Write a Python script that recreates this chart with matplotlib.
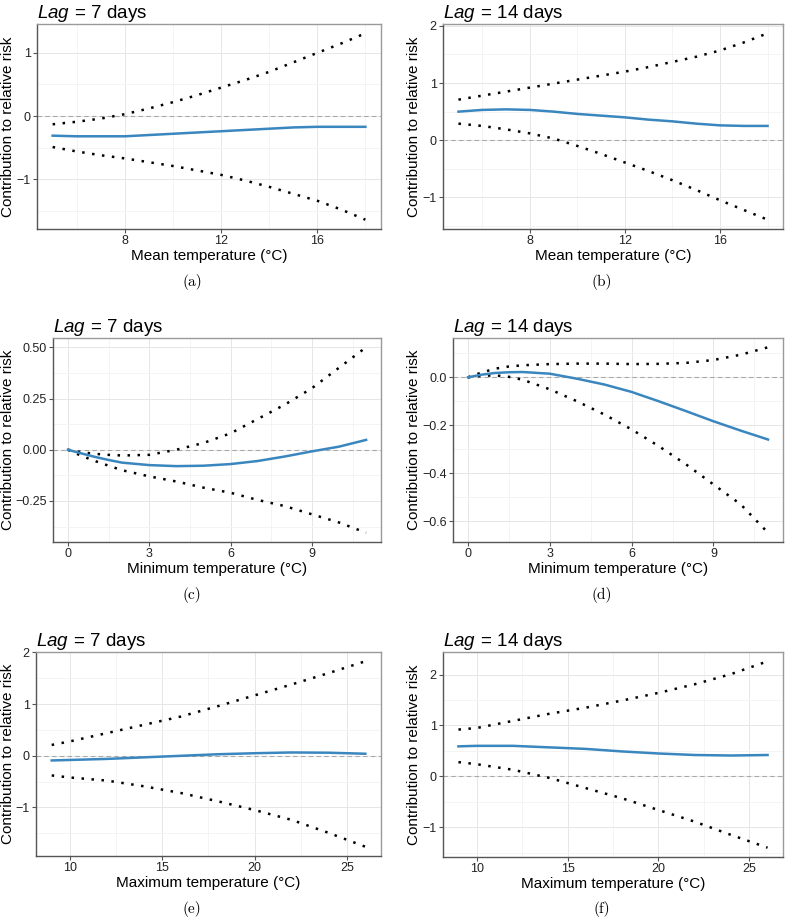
import matplotlib
matplotlib.use("Agg")
import matplotlib.pyplot as plt
from matplotlib.ticker import AutoMinorLocator, FuncFormatter

plt.rcParams["font.family"] = ["Liberation Sans", "DejaVu Sans"]
plt.rcParams["mathtext.fontset"] = "custom"
plt.rcParams["mathtext.rm"] = "Liberation Sans"
plt.rcParams["mathtext.it"] = "Liberation Sans:italic"

# ---- data ----
x_mean = [5, 6, 7, 8, 9, 10, 11, 12, 13, 14, 15, 16, 17, 18]
a_up = [-0.13, -0.09, -0.04, 0.03, 0.12, 0.22, 0.33, 0.45, 0.57, 0.70, 0.85, 1.00, 1.15, 1.31]
a_mid = [-0.31, -0.32, -0.32, -0.32, -0.30, -0.28, -0.26, -0.24, -0.22, -0.20, -0.18, -0.17, -0.17, -0.17]
a_lo = [-0.49, -0.56, -0.62, -0.67, -0.73, -0.79, -0.86, -0.93, -1.02, -1.12, -1.23, -1.34, -1.48, -1.64]

b_up = [0.71, 0.78, 0.85, 0.92, 0.99, 1.06, 1.13, 1.20, 1.28, 1.37, 1.46, 1.57, 1.71, 1.87]
b_mid = [0.50, 0.53, 0.54, 0.53, 0.50, 0.46, 0.43, 0.40, 0.36, 0.33, 0.29, 0.26, 0.25, 0.25]
b_lo = [0.29, 0.25, 0.19, 0.12, 0.03, -0.10, -0.24, -0.39, -0.54, -0.70, -0.87, -1.05, -1.22, -1.39]

x_min = [0, 0.5, 1, 1.5, 2, 3, 4, 5, 6, 7, 8, 9, 10, 11]
c_up = [0.0, -0.012, -0.02, -0.025, -0.028, -0.025, 0.0, 0.033, 0.08, 0.15, 0.22, 0.30, 0.40, 0.50]
c_mid = [0.0, -0.018, -0.035, -0.05, -0.063, -0.075, -0.08, -0.078, -0.07, -0.055, -0.033, -0.008, 0.015, 0.048]
c_lo = [0.0, -0.03, -0.055, -0.078, -0.10, -0.13, -0.155, -0.185, -0.21, -0.245, -0.275, -0.315, -0.355, -0.405]

d_up = [0.0, 0.02, 0.036, 0.045, 0.05, 0.055, 0.057, 0.057, 0.055, 0.056, 0.06, 0.072, 0.094, 0.125]
d_mid = [0.0, 0.011, 0.018, 0.021, 0.022, 0.015, -0.006, -0.03, -0.061, -0.10, -0.141, -0.183, -0.222, -0.259]
d_lo = [0.0, 0.006, 0.008, 0.002, -0.01, -0.05, -0.10, -0.155, -0.217, -0.287, -0.363, -0.446, -0.529, -0.647]

x_max = [9, 10, 12, 14, 16, 18, 20, 22, 24, 26]
e_up = [0.21, 0.28, 0.44, 0.60, 0.76, 0.96, 1.17, 1.38, 1.60, 1.83]
e_mid = [-0.09, -0.08, -0.06, -0.03, 0.0, 0.03, 0.05, 0.065, 0.06, 0.04]
e_lo = [-0.38, -0.42, -0.48, -0.59, -0.72, -0.88, -1.05, -1.24, -1.49, -1.76]

f_up = [0.92, 0.95, 1.09, 1.23, 1.35, 1.49, 1.64, 1.81, 2.01, 2.26]
f_mid = [0.59, 0.60, 0.60, 0.57, 0.54, 0.49, 0.45, 0.42, 0.41, 0.42]
f_lo = [0.28, 0.24, 0.13, -0.03, -0.23, -0.43, -0.66, -0.89, -1.15, -1.40]

xlabels = ["Mean temperature (°C)", "Minimum temperature (°C)", "Maximum temperature (°C)"]
lags = ["7", "14"]
captions = ["(a)", "(b)", "(c)", "(d)", "(e)", "(f)"]

# panel boxes in pixels: left, top, right, bottom
W, H = 788, 917
boxes = [(37, 24, 381, 229), (443, 24, 783, 229),
         (53, 338, 381, 542), (453, 338, 783, 542),
         (36, 652, 381, 856), (443, 652, 783, 857)]
cap_y = [282, 282, 595, 595, 909, 909]
cap_x = [192, 602]
ylab_right = [15, 421]

panels = [
    (x_mean, a_up, a_mid, a_lo, [8, 12, 16], [-1, 0, 1], "%g"),
    (x_mean, b_up, b_mid, b_lo, [8, 12, 16], [-1, 0, 1, 2], "%g"),
    (x_min, c_up, c_mid, c_lo, [0, 3, 6, 9], [-0.25, 0, 0.25, 0.5], "%.2f"),
    (x_min, d_up, d_mid, d_lo, [0, 3, 6, 9], [-0.6, -0.4, -0.2, 0.0], "%.1f"),
    (x_max, e_up, e_mid, e_lo, [10, 15, 20, 25], [-1, 0, 1, 2], "%g"),
    (x_max, f_up, f_mid, f_lo, [10, 15, 20, 25], [-1, 0, 1, 2], "%g"),
]

fig = plt.figure(figsize=(W / 100, H / 100), dpi=100)

for i, (x, up, mid, lo, xt, yt, fmt) in enumerate(panels):
    l, t, r, b = boxes[i]
    ax = fig.add_axes([l / W, 1 - b / H, (r - l) / W, (b - t) / H])

    ax.axhline(0, color="#a8a8a8", lw=0.8, ls=(0, (4, 3)), zorder=1)
    ax.plot(x, up, color="black", lw=1.8, ls=(0, (1, 3)), dash_capstyle="butt", zorder=3)
    ax.plot(x, lo, color="black", lw=1.8, ls=(0, (1, 3)), dash_capstyle="butt", zorder=3)
    ax.plot(x, mid, color="#3a86bf", lw=1.8, zorder=4)
    ax.margins(x=0.05, y=0.05)

    ax.set_xticks(xt)
    ax.set_yticks(yt)
    ax.yaxis.set_major_formatter(FuncFormatter(lambda v, p, f=fmt: (f % v).replace("-", "\u2212")))
    ax.xaxis.set_minor_locator(AutoMinorLocator(2))
    ax.yaxis.set_minor_locator(AutoMinorLocator(2))
    ax.grid(True, which="major", color="#e6e6e6", lw=0.7, zorder=0)
    ax.grid(True, which="minor", color="#f3f3f3", lw=0.6, zorder=0)
    ax.set_axisbelow(True)
    ax.tick_params(which="major", length=3, width=0.8, color="#555555", labelsize=9,
                   labelcolor="#222222", pad=1.5)
    ax.tick_params(which="minor", length=0)
    for side in ["left", "bottom"]:
        ax.spines[side].set_color("#555555")
        ax.spines[side].set_linewidth(1.0)
    for side in ["top", "right"]:
        ax.spines[side].set_color("#9a9a9a")
        ax.spines[side].set_linewidth(1.0)

    ax.set_xlabel(xlabels[i // 2], fontsize=11, labelpad=1)
    ax.set_ylabel("Contribution to relative risk", fontsize=11)
    ax.yaxis.set_label_coords((ylab_right[i % 2] - l) / (r - l), 0.5)
    ax.set_title(r"$\mathit{Lag}\,=\,\mathrm{%s\ days}$" % lags[i % 2], loc="left",
                 fontsize=13.5, pad=4)

    fig.text(cap_x[i % 2] / W, 1 - cap_y[i] / H, captions[i], family="cmr10",
             fontsize=11, ha="center", va="center")

fig.savefig("out.png", dpi=100)
